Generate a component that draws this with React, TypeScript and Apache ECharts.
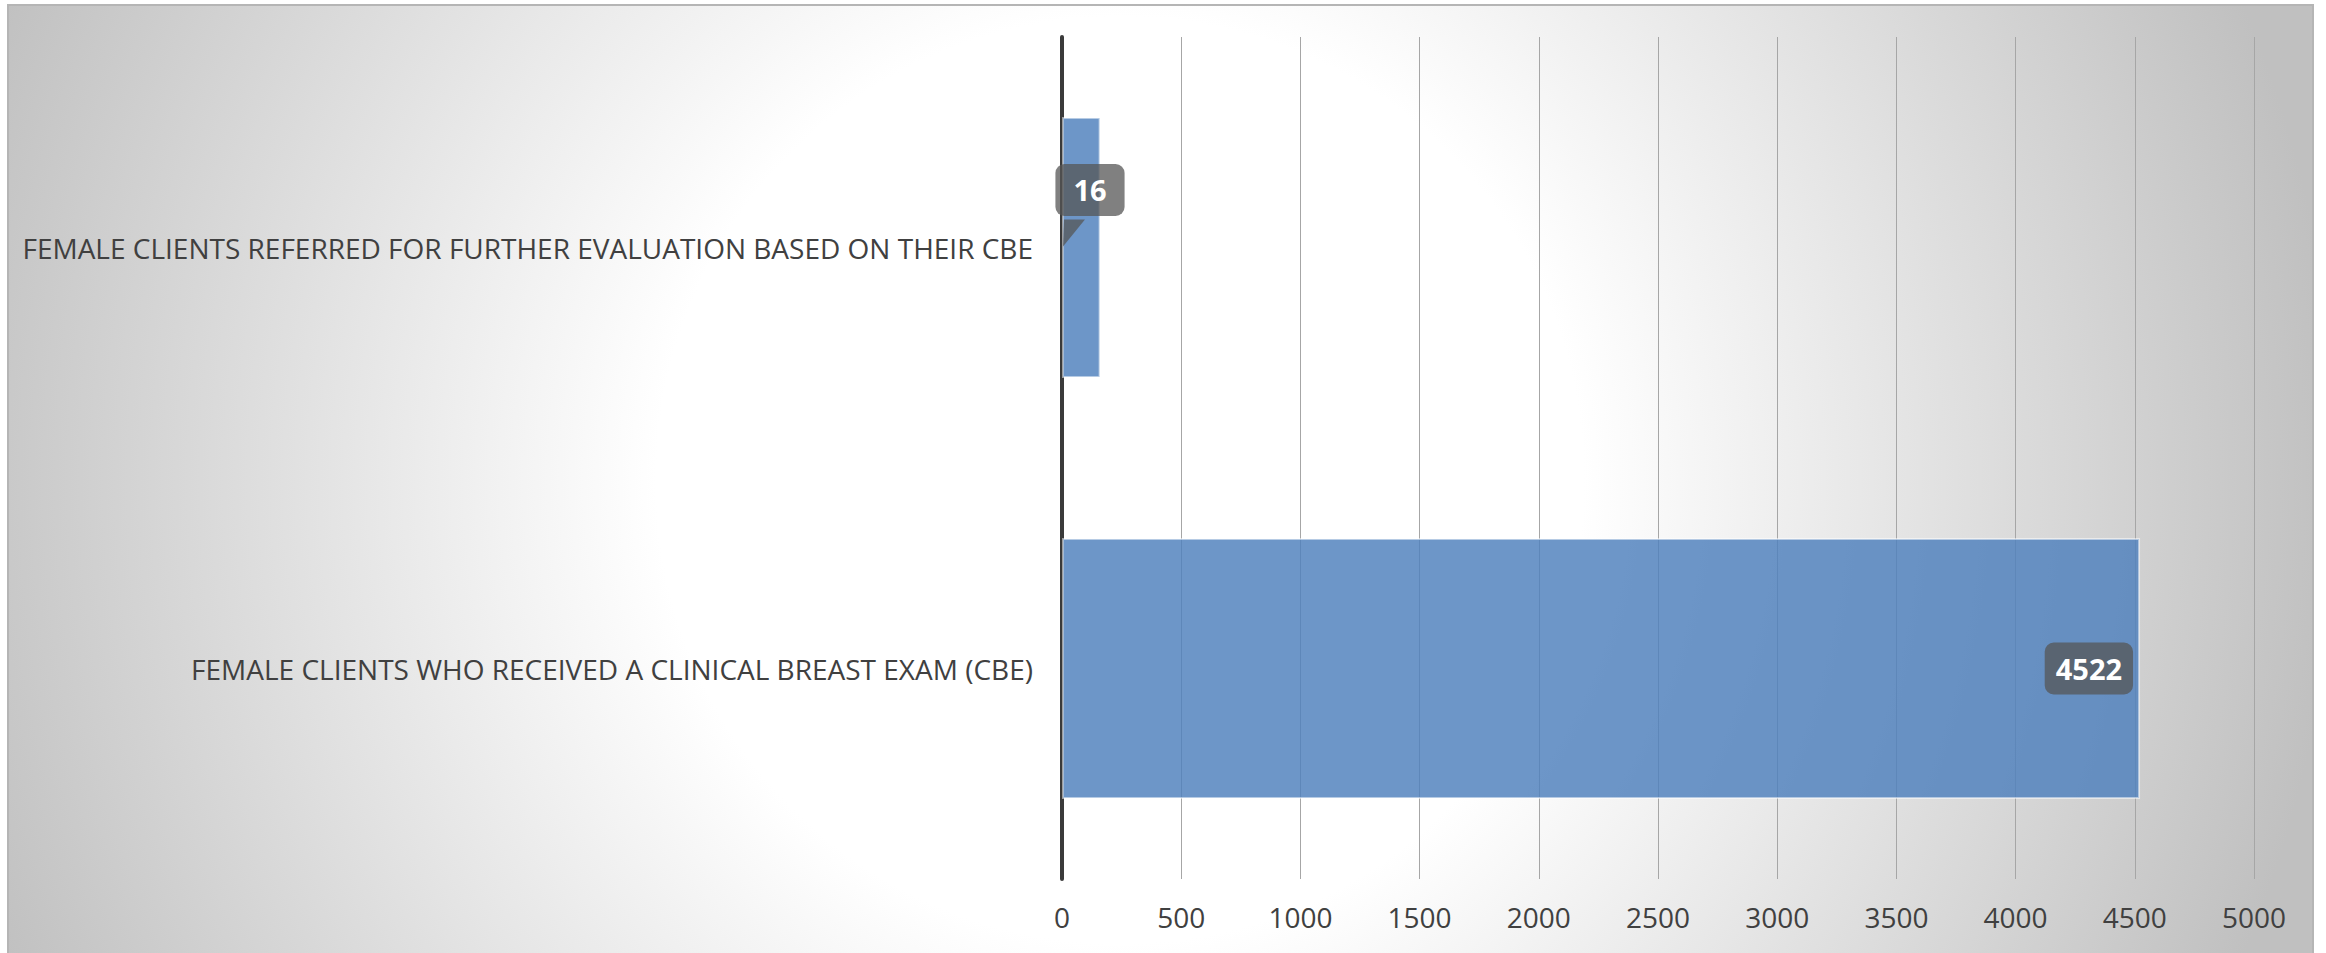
import React, { useEffect, useRef } from "react";
import * as echarts from "echarts";

const categories = [
  "FEMALE CLIENTS WHO RECEIVED A CLINICAL BREAST EXAM (CBE)",
  "FEMALE CLIENTS REFERRED FOR FURTHER EVALUATION BASED ON THEIR CBE",
];
const barValues = [4522, 162];
const labelTexts = ["4522", "16"];
const xTicks = { min: 0, max: 5000, interval: 500 };

const FONT = "'Open Sans', 'Noto Sans', sans-serif";
const BOX = "rgba(85,85,85,0.75)";

export default function App() {
  const ref = useRef<HTMLDivElement>(null);
  useEffect(() => {
    if (!ref.current) return;
    const chart = echarts.init(ref.current, undefined, { renderer: "svg" });
    const option: any = {
      animation: false,
      graphic: [
        {
          type: "rect",
          z: -10,
          shape: { x: 8, y: 5, width: 2305, height: 960 },
          style: {
            fill: {
              type: "radial",
              x: 1120,
              y: 480,
              r: 1220,
              global: true,
              colorStops: [
                { offset: 0, color: "#ffffff" },
                { offset: 0.38, color: "#ffffff" },
                { offset: 1, color: "#c0c0c0" },
              ],
            },
            stroke: "#b5b5b5",
            lineWidth: 2,
          },
        },
      ],
      grid: { left: 1062, right: 72, top: 37, bottom: 74, containLabel: false },
      xAxis: {
        type: "value",
        min: xTicks.min,
        max: xTicks.max,
        interval: xTicks.interval,
        axisLine: { show: false },
        axisTick: { show: false },
        splitLine: { show: true, lineStyle: { color: "#a6a6a6", width: 1 } },
        axisLabel: {
          color: "#404040",
          fontSize: 28,
          fontFamily: FONT,
          margin: 24,
          formatter: (v: number) => String(v),
        },
      },
      yAxis: {
        type: "category",
        data: categories,
        axisLine: { show: true, lineStyle: { color: "#3a3a3a", width: 4 } },
        axisTick: { show: false },
        splitLine: { show: false },
        axisLabel: { color: "#404040", fontSize: 28, fontFamily: FONT, margin: 29 },
      },
      series: [
        {
          type: "bar",
          barCategoryGap: "38%",
          data: barValues.map((v, i) => ({
            value: v,
            label:
              i === 0
                ? {
                    show: true,
                    position: "insideRight",
                    distance: 7,
                    padding: [11, 11, 11, 11],
                  }
                : {
                    show: true,
                    position: [28, 73],
                    align: "center",
                    verticalAlign: "middle",
                    padding: [11, 18, 11, 18],
                  },
          })),
          itemStyle: {
            color: "rgba(79,129,189,0.83)",
            borderColor: "rgba(255,255,255,0.5)",
            borderWidth: 2,
          },
          label: {
            show: true,
            formatter: (p: any) => labelTexts[p.dataIndex],
            color: "#ffffff",
            fontWeight: "bold",
            fontSize: 29,
            lineHeight: 30,
            fontFamily: FONT,
            backgroundColor: BOX,
            borderRadius: 9,
          },
        },
        {
          type: "custom",
          z: 3,
          data: [[0, 1]],
          renderItem: (params: any, api: any) => {
            const p = api.coord([api.value(0), api.value(1)]);
            return {
              type: "polygon",
              shape: {
                points: [
                  [p[0] + 2, p[1] - 28],
                  [p[0] + 23, p[1] - 28],
                  [p[0] + 1, p[1] - 1],
                ],
              },
              style: { fill: BOX },
            };
          },
        },
      ],
    };
    chart.setOption(option);
    return () => chart.dispose();
  }, []);
  return (
    <div
      ref={ref}
      style={{ position: "absolute", left: 0, top: 0, width: 2326, height: 953 }}
    />
  );
}
